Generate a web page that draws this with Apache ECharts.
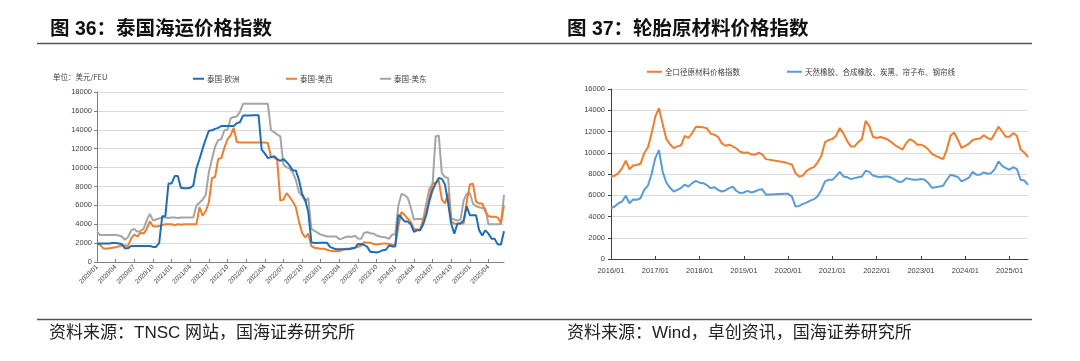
<!DOCTYPE html>
<html><head><meta charset="utf-8">
<script src="https://cdn.jsdelivr.net/npm/echarts@6/dist/echarts.min.js"></script>
<style>html,body{margin:0;padding:0;background:#fff}#c{width:1080px;height:361px}</style>
</head><body><div id="c"></div>
<script>
// ---------- Left chart: 泰国海运价格指数 (semi-monthly, 2020/01 - 2025/06) ----------
const leftCategories = [];
for (let y = 2020; y <= 2025; y++) {
  for (let m = 1; m <= 12; m++) {
    if (y === 2025 && m > 6) break;
    const mm = (m < 10 ? '0' : '') + m;
    leftCategories.push(y + '/' + mm);
    leftCategories.push(y + '/' + mm + '/16');
  }
}
const thaiEurope = [
  1950,1950,1950,1950,1950,2000,2000,1950,1900,1450,
  1450,1700,1700,1700,1700,1700,1700,1700,1600,1600,
  2000,4850,4850,8300,8300,9100,9100,7850,7800,7800,
  7850,8100,9900,10900,12000,13000,13900,13950,14100,14200,
  14400,14400,14400,14400,14400,14700,14800,15500,15500,15500,
  15550,15550,15550,11900,11500,11000,11100,11200,10900,10700,
  10900,10600,10200,9700,9700,8700,7200,6600,5300,2100,
  2000,2000,2050,2050,2050,1600,1450,1350,1350,1350,
  1350,1350,1450,1500,1900,1900,1800,1600,1050,1050,
  1000,1100,1250,1300,1750,1650,1650,5000,4700,4300,
  4300,4000,3200,3350,3350,4000,5000,6500,7600,8300,
  8900,8800,8200,6300,4050,3000,4050,4100,4400,5900,
  4950,4950,4950,3350,2800,3350,3000,2450,2450,1850,
  1850,3250
];
const thaiUSWest = [
  1850,1850,1450,1400,1450,1500,1550,1650,1750,1750,
  1700,2500,2900,2700,3100,3000,3500,4300,3800,3750,
  3800,3900,4000,4000,4000,3900,4000,3950,4000,4000,
  4000,4000,4000,5800,4900,5400,6300,8900,9000,10900,
  11000,12100,13000,13400,14200,12700,12650,12650,12650,12650,
  12650,12650,12650,12650,12650,12600,11100,11100,10800,6500,
  6600,7300,6900,6400,5800,4300,3100,2600,3000,1700,
  1500,1450,1400,1400,1300,1200,1150,1150,1150,1300,
  1400,1400,1400,1500,1600,1750,2100,2050,2050,1900,
  1850,1900,1950,1950,1900,1800,1800,3800,5300,5000,
  4600,4250,3500,3450,3450,4500,5300,6800,8300,8400,
  8650,6600,6200,7250,4300,4050,4050,4050,4100,6400,
  8200,8300,6400,6200,6200,5300,4850,4800,4800,4700,
  4100,6000
];
const thaiUSEast = [
  3200,2850,2850,2850,2850,2850,2850,2800,2700,2350,
  2650,3350,3500,3200,3300,3500,4400,5100,4400,4500,
  4600,4700,4700,4650,4700,4700,4650,4700,4700,4700,
  4700,4700,5950,6300,6600,7100,9500,10900,12200,12900,
  13000,13950,14000,15200,15350,15400,15900,16750,16750,16750,
  16750,16750,16750,16750,16750,16750,13950,13750,13500,13300,
  10300,10050,9900,9500,8700,7400,7000,6400,6800,3500,
  3300,3100,2900,2800,2700,2700,2700,2700,2400,2500,
  2650,2700,2650,2800,2500,2450,3100,3150,3050,3000,
  2800,2700,2650,2600,2450,2900,2900,6000,7200,7100,
  6800,5800,4500,4550,4550,4550,6200,7800,8200,13300,
  13400,9400,9000,8900,4600,4500,4400,4500,6500,7200,
  7300,6200,5900,5800,5700,5700,4000,4000,4000,4000,
  4000,7100
];

// ---------- Right chart: 轮胎原材料价格指数 (monthly, 2016/01 - 2025/06) ----------
const rightCategories = [];
for (let y = 2016; y <= 2025; y++) {
  for (let m = 1; m <= 12; m++) {
    if (y === 2025 && m > 6) break;
    rightCategories.push(y + '/' + (m < 10 ? '0' : '') + m);
  }
}
const rawAll = [
  7770,7830,8080,8550,9250,8450,8800,8850,8960,9970,
  10500,11800,13400,14200,12700,11300,10800,10440,10600,10700,
  11600,11390,11860,12450,12420,12390,12300,11800,11700,11500,
  10900,10660,10760,10600,10400,10100,10000,10030,9850,9810,
  10000,9850,9400,null,null,null,null,9100,9000,8900,
  8080,7750,7850,8300,8500,8650,9100,9700,11000,11200,
  11290,11600,12330,11800,11100,10600,10600,11000,11300,13000,
  12500,11500,11390,11480,11390,11230,11000,10700,10500,10300,
  10900,11290,11100,10760,10760,10600,10300,9900,9700,9550,
  9400,10300,11600,11900,11230,10450,10650,10850,11200,11300,
  11350,11650,11400,11230,11800,12450,12000,11500,11500,11850,
  11600,10300,10030,9590
];
const rawFive = [
  4780,4940,5250,5410,5950,5250,5600,5570,5720,6510,
  6900,8000,9500,10250,8200,7200,6700,6350,6510,6700,
  7000,6820,7140,7360,7180,7140,6950,6670,6760,6500,
  6350,6450,6670,6800,6400,6200,6260,6420,6260,6350,
  6510,6570,6040,null,null,null,null,6150,6130,5900,
  4940,5000,5190,5310,5500,5630,5900,6500,7300,7450,
  7450,7800,8200,7770,7700,7520,7610,7690,7770,8300,
  8200,7850,7770,7700,7770,7770,7650,7450,7250,7300,
  7610,7520,7450,7450,7520,7450,7150,6700,6760,6820,
  6890,7450,7930,7830,7700,7300,7480,7650,8200,7930,
  7930,8150,8020,8080,8460,9180,8770,8550,8400,8650,
  8460,7450,7390,6980
];

const LATIN = "'Liberation Sans','Noto Sans CJK SC',sans-serif";
const CJK = "'Noto Sans CJK SC','Liberation Sans',sans-serif";
const labelColor = '#404040';
const plain = function (v) { return String(v); };

function legend(name, left, top, w) {
  return {
    data: [name], left: left, top: top, padding: 0, itemGap: 0,
    icon: 'rect', itemWidth: w, itemHeight: 2, selectedMode: false,
    textStyle: { fontSize: 7.5, color: labelColor, fontFamily: CJK, padding: [0, 0, 0, -2] }
  };
}
function lineSeries(name, data, color, xi) {
  return {
    name: name, type: 'line', data: data, xAxisIndex: xi, yAxisIndex: xi,
    symbol: 'none', showSymbol: false, connectNulls: true,
    lineStyle: { color: color, width: 2 }, itemStyle: { color: color },
    emphasis: { disabled: true }, z: 3
  };
}
function text(t, x, y, font, color) {
  return { type: 'text', x: x, y: y, silent: true,
    style: { text: t, font: font, fill: color, verticalAlign: 'middle', align: 'left' } };
}

const chart = echarts.init(document.getElementById('c'), null, { renderer: 'canvas' });
chart.setOption({
  animation: false,
  backgroundColor: '#ffffff',
  grid: [
    { left: 97, top: 92, width: 407, height: 170, containLabel: false, outerBoundsMode: 'none' },
    { left: 611, top: 89, width: 417, height: 170, containLabel: false, outerBoundsMode: 'none' }
  ],
  legend: [
    legend('泰国-欧洲', 193, 75, 11),
    legend('泰国-美西', 286, 75, 11),
    legend('泰国-美东', 380, 75, 11),
    legend('全口径原材料价格指数', 647, 68, 15),
    legend('天然橡胶、合成橡胶、炭黑、帘子布、钢帘线', 787, 68, 15)
  ],
  xAxis: [
    {
      type: 'category', gridIndex: 0, data: leftCategories, boundaryGap: false,
      axisLine: { lineStyle: { color: '#808080', width: 1 } },
      axisTick: { show: true, inside: true, length: 3, interval: 5, lineStyle: { color: '#808080' } },
      axisLabel: { interval: 5, rotate: 45, fontSize: 6.5, color: labelColor, margin: 4, fontFamily: LATIN,
        formatter: function (v) { return v.slice(0, 7); } },
      splitLine: { show: false }
    },
    {
      type: 'category', gridIndex: 1, data: rightCategories, boundaryGap: false,
      axisLine: { lineStyle: { color: '#404040', width: 1 } },
      axisTick: { show: true, inside: true, length: 3, interval: 11, lineStyle: { color: '#404040' } },
      axisLabel: { interval: 11, fontSize: 7.5, color: labelColor, margin: 8, fontFamily: LATIN },
      splitLine: { show: false }
    }
  ],
  yAxis: [
    {
      type: 'value', gridIndex: 0, min: 0, max: 18000, interval: 2000,
      axisLine: { show: true, lineStyle: { color: '#808080' } },
      axisTick: { show: true, length: 3, lineStyle: { color: '#808080' } },
      axisLabel: { fontSize: 7.5, color: labelColor, margin: 5, fontFamily: LATIN, formatter: plain },
      splitLine: { show: true, lineStyle: { color: '#d9d9d9', width: 1 } }
    },
    {
      type: 'value', gridIndex: 1, min: 0, max: 16000, interval: 2000,
      axisLine: { show: true, lineStyle: { color: '#404040' } },
      axisTick: { show: true, length: 3, lineStyle: { color: '#404040' } },
      axisLabel: { fontSize: 7.5, color: labelColor, margin: 6, fontFamily: LATIN, formatter: plain },
      splitLine: { show: true, lineStyle: { color: '#d9d9d9', width: 1 } }
    }
  ],
  series: [
    lineSeries('泰国-美东', thaiUSEast, '#a5a5a5', 0),
    lineSeries('泰国-美西', thaiUSWest, '#ed7d31', 0),
    lineSeries('泰国-欧洲', thaiEurope, '#1f6db3', 0),
    lineSeries('全口径原材料价格指数', rawAll, '#ed7d31', 1),
    lineSeries('天然橡胶、合成橡胶、炭黑、帘子布、钢帘线', rawFive, '#5b9bd5', 1)
  ],
  graphic: [
    text('图 36：泰国海运价格指数', 50, 30, 'bold 19.5px ' + LATIN, '#111'),
    text('图 37：轮胎原材料价格指数', 567, 30, 'bold 19.5px ' + LATIN, '#111'),
    { type: 'line', silent: true, shape: { x1: 37, y1: 43.5, x2: 1032, y2: 43.5 }, style: { stroke: '#555', lineWidth: 1.5 } },
    { type: 'line', silent: true, shape: { x1: 37, y1: 319.5, x2: 1032, y2: 319.5 }, style: { stroke: '#555', lineWidth: 1.5 } },
    text('单位：美元/FEU', 53, 77, '7.5px ' + CJK, '#404040'),
    text('资料来源：TNSC 网站，国海证券研究所', 49, 333, '17px ' + LATIN, '#222'),
    text('资料来源：Wind，卓创资讯，国海证券研究所', 567, 333, '17px ' + LATIN, '#222')
  ]
});
</script></body></html>
